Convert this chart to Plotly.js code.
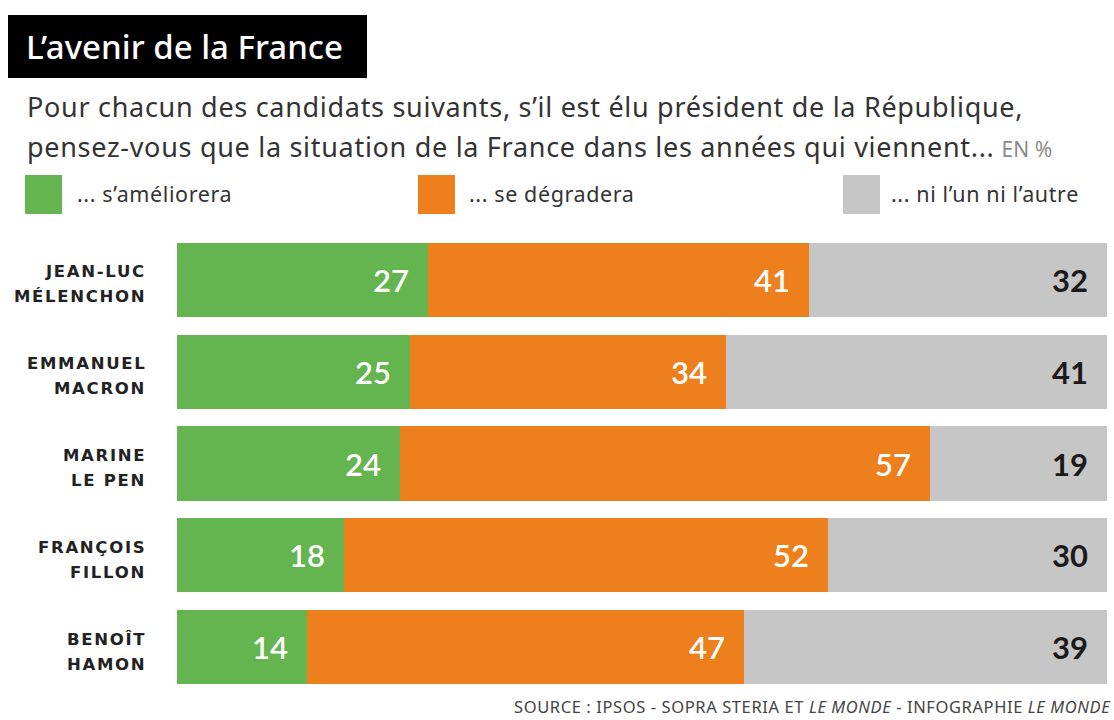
<!DOCTYPE html>
<html>
<head>
<meta charset="utf-8">
<script src="https://cdn.plot.ly/plotly-3.0.1.min.js"></script>
<style>html,body{margin:0;padding:0;background:#fff;}#chart{width:1114px;height:720px;}</style>
</head>
<body>
<div id="chart"></div>
<script>
var candidates = ["JEAN-LUC<br>MÉLENCHON", "EMMANUEL<br>MACRON", "MARINE<br>LE PEN", "FRANÇOIS<br>FILLON", "BENOÎT<br>HAMON"];
var ameliorera = [27, 25, 24, 18, 14];
var degradera = [41, 34, 57, 52, 47];
var niUnNiAutre = [32, 41, 19, 30, 39];
var seriesNames = ["... s\u2019améliorera", "... se dégradera", "... ni l\u2019un ni l\u2019autre"];
var titleText = "L\u2019avenir de la France";
var subtitle1 = "Pour chacun des candidats suivants, s\u2019il est élu président de la République,";
var subtitle2 = "pensez-vous que la situation de la France dans les années qui viennent...";
var unitText = "EN %";
var sourceText = "SOURCE : IPSOS - SOPRA STERIA ET <i>LE MONDE</i> - INFOGRAPHIE <i>LE MONDE</i>";

var colors = ["#64b450", "#ee7f1d", "#c6c6c6"];
var FONT = "'Noto Sans', 'Open Sans', sans-serif";
var NUMFONT = "Lato, 'Noto Sans', sans-serif";

// pixel -> paper helpers (plot area: x 177..1107, y 234..693)
var L = 177, R = 1107, T = 234, B = 693;
function px(x) { return (x - L) / (R - L); }
function py(y) { return (B - y) / (B - T); }
function ls(t, s) { return "<span style='letter-spacing:" + s + "px'>" + t + "</span>"; }

var series = [ameliorera, degradera, niUnNiAutre];
var traces = series.map(function (vals, i) {
  return {
    type: "bar", orientation: "h",
    x: vals, y: candidates, name: seriesNames[i],
    marker: { color: colors[i], line: { width: 0 } },
    width: 0.81, hoverinfo: "x+name", showlegend: false
  };
});

var annotations = [];
// value labels
candidates.forEach(function (c, j) {
  var cum = 0;
  series.forEach(function (vals, i) {
    cum += vals[j];
    annotations.push({
      x: cum, y: c, xref: "x", yref: "y", text: String(vals[j]),
      xanchor: "right", yanchor: "middle", xshift: -17, showarrow: false,
      font: { family: NUMFONT, size: 31, color: i < 2 ? "#ffffff" : "#1a1a1a", weight: i < 2 ? 600 : 700 }
    });
  });
  // category label, two lines
  var parts = c.split("<br>");
  var shifts = [8, -17];
  parts.forEach(function (p, k) {
    annotations.push({
      x: px(148), y: c, xref: "paper", yref: "y", text: ls(p, 1.7),
      xanchor: "right", yanchor: "middle", yshift: shifts[k], showarrow: false,
      font: { family: "'DejaVu Sans', sans-serif", size: 16.5, color: "#222222", weight: 700 }
    });
  });
});
// title
annotations.push({ x: px(24), y: py(47), xref: "paper", yref: "paper", text: titleText,
  xanchor: "left", yanchor: "middle", showarrow: false,
  font: { family: FONT, size: 33, color: "#ffffff", weight: 500 } });
// subtitle
annotations.push({ x: px(25), y: py(106), xref: "paper", yref: "paper", text: ls(subtitle1, 0.7),
  xanchor: "left", yanchor: "middle", showarrow: false,
  font: { family: FONT, size: 27, color: "#333333" } });
annotations.push({ x: px(25), y: py(146), xref: "paper", yref: "paper",
  text: ls(subtitle2, 0.7) + " <span style='font-size:21px;color:#8a8a8a'>" + unitText + "</span>",
  xanchor: "left", yanchor: "middle", showarrow: false,
  font: { family: FONT, size: 27, color: "#333333" } });
// legend
var legX = [25, 418, 843], legLabelX = [75, 467, 889];
seriesNames.forEach(function (n, i) {
  annotations.push({ x: px(legLabelX[i]), y: py(194), xref: "paper", yref: "paper", text: ls(n, 0.6),
    xanchor: "left", yanchor: "middle", showarrow: false,
    font: { family: FONT, size: 21.5, color: "#333333" } });
});
// source
annotations.push({ x: px(1112), y: py(706), xref: "paper", yref: "paper", text: ls(sourceText, 0.6),
  xanchor: "right", yanchor: "middle", showarrow: false, borderpad: 0,
  font: { family: FONT, size: 16.5, color: "#444444" } });

var shapes = [{ type: "rect", xref: "paper", yref: "paper", x0: px(8), x1: px(367), y0: py(78), y1: py(15),
  fillcolor: "#000000", line: { width: 0 }, layer: "below" }];
legX.forEach(function (x, i) {
  shapes.push({ type: "rect", xref: "paper", yref: "paper", x0: px(x), x1: px(x + 37), y0: py(214), y1: py(175),
    fillcolor: colors[i], line: { width: 0 } });
});

var layout = {
  width: 1114, height: 720,
  margin: { l: L, r: 1114 - R, t: T, b: 720 - B, pad: 0 },
  paper_bgcolor: "#ffffff", plot_bgcolor: "#ffffff",
  barmode: "stack", bargap: 0.19,
  showlegend: false,
  xaxis: { range: [0, 100], showgrid: false, zeroline: false, showticklabels: false, fixedrange: true },
  yaxis: { autorange: "reversed", showgrid: false, zeroline: false, ticks: "", showticklabels: false },
  annotations: annotations, shapes: shapes
};

Plotly.newPlot("chart", traces, layout, { displayModeBar: false, staticPlot: true });
</script>
</body>
</html>
